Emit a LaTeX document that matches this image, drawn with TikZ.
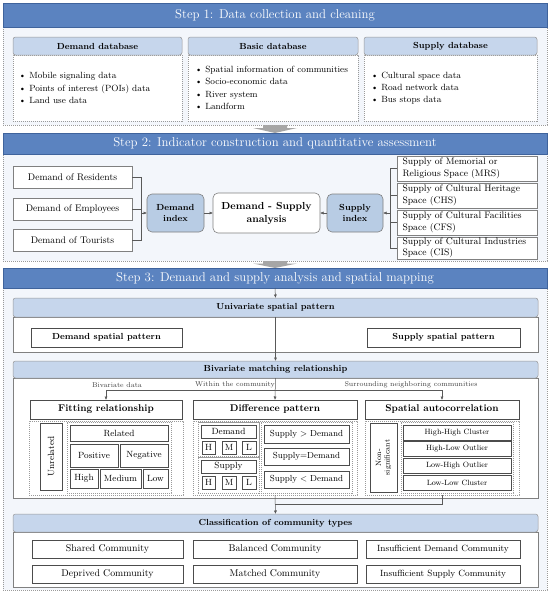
\documentclass[tikz,border=0pt]{standalone}
\usepackage{fontspec}
\usetikzlibrary{arrows.meta}
\definecolor{stepblue}{HTML}{5B83C0}
\definecolor{stepborder}{HTML}{3F639C}
\definecolor{lightbg}{HTML}{F3F6FB}
\definecolor{hdrblue}{HTML}{C6D6EC}
\definecolor{idxblue}{HTML}{B8CCE4}
\definecolor{dashgray}{HTML}{9A9A9A}
\definecolor{boxgray}{HTML}{808080}
\definecolor{arrowgray}{HTML}{A6A6A6}
\newcommand\mybox[7]{%
  \pgfmathsetmacro\bxw{#5-#3}\pgfmathsetmacro\bxh{#6-#4}%
  \pgfmathsetmacro\bxcx{(#3+#5)/2}\pgfmathsetmacro\bxcy{(#4+#6)/2}%
  \node[#2, minimum width=\bxw pt, minimum height=\bxh pt, anchor=center] (#1) at (\bxcx,\bxcy) {#7};}
\begin{document}
\begin{tikzpicture}[x=1pt,y=-1pt,
  every node/.style={inner sep=0pt, outer sep=0pt},
  stephead/.style={fill=stepblue, draw=stepborder, line width=0.8pt, text=white, font=\fontsize{12.8}{15}\selectfont},
  stepbody/.style={fill=lightbg, draw=dashgray, line width=0.5pt, dash pattern=on 1.2pt off 0.8pt},
  subhead/.style={fill=hdrblue, draw=boxgray!80, line width=0.5pt, rounded corners=2.5pt, font=\bfseries\fontsize{8.8}{10}\selectfont},
  dbody/.style={fill=white, draw=dashgray, line width=0.5pt, dash pattern=on 1.2pt off 0.8pt},
  dreg/.style={draw=dashgray, line width=0.5pt, dash pattern=on 1.2pt off 0.8pt},
  sbody/.style={fill=white, draw=boxgray, line width=0.5pt},
  wbox/.style={fill=white, draw=boxgray, line width=0.6pt, font=\fontsize{9.6}{11.5}\selectfont},
  rbox/.style={wbox, align=left, text width=129pt, font=\fontsize{9.4}{11.3}\selectfont},
  ibox/.style={fill=white, draw=black!70, line width=0.8pt, font=\fontsize{9}{10.5}\selectfont},
  thead/.style={fill=white, draw=black!70, line width=0.8pt, font=\bfseries\fontsize{9.8}{11}\selectfont},
  idxbox/.style={fill=idxblue, draw=boxgray, line width=0.6pt, rounded corners=5pt, align=center, font=\bfseries\fontsize{8.8}{11}\selectfont},
  btext/.style={align=left, font=\fontsize{9}{12.3}\selectfont},
  lbl/.style={font=\fontsize{7}{8}\selectfont, text=black!75},
  conn/.style={draw=black!65, line width=0.5pt},
  arr/.style={conn, -{Latex[length=3.5pt,width=3pt]}}
]
\useasboundingbox (0,0) rectangle (550,592);
\fill[white] (0,0) rectangle (550,592);

% ---------------- Step 1 ----------------
\mybox{s1b}{stepbody}{3}{27}{547}{125}{}
\mybox{s1h}{stephead}{3}{3}{547}{27}{Step 1: Data collection and cleaning}

\mybox{c1b}{dbody}{13}{55}{182}{121}{}
\mybox{c1h}{subhead}{13}{37}{182}{55}{Demand database}
\node[btext, anchor=west] (c1t) at (19,88) {\textbullet\ Mobile signaling data\\ \textbullet\ Points of interest (POIs) data\\ \textbullet\ Land use data};

\mybox{c2b}{dbody}{188}{55}{358}{121}{}
\mybox{c2h}{subhead}{188}{37}{358}{55}{Basic database}
\node[btext, anchor=west] (c2t) at (195,88) {\textbullet\ Spatial information of communities\\ \textbullet\ Socio-economic data\\ \textbullet\ River system\\ \textbullet\ Landform};

\mybox{c3b}{dbody}{364}{55}{537}{121}{}
\mybox{c3h}{subhead}{364}{37}{537}{55}{Supply database}
\node[btext, anchor=west] (c3t) at (371,88) {\textbullet\ Cultural space data\\ \textbullet\ Road network data\\ \textbullet\ Bus stops data};

% gray arrow 1
\fill[arrowgray] (263,125) -- (287,125) -- (287,128) -- (297,128) -- (275,133) -- (253,128) -- (263,128) -- cycle;

% ---------------- Step 2 ----------------
\mybox{s2b}{stepbody}{3}{154}{547}{261}{}
\mybox{s2h}{stephead}{3}{133}{547}{154}{Step 2: Indicator construction and quantitative assessment}

\mybox{res}{wbox}{13}{166}{132}{188}{Demand of Residents}
\mybox{emp}{wbox}{13}{198}{132}{220}{Demand of Employees}
\mybox{tou}{wbox}{13}{229}{132}{251}{Demand of Tourists}

\mybox{dix}{idxbox}{147}{194}{204}{232}{Demand\\index}
\mybox{ds}{fill=white, draw=boxgray, line width=0.6pt, rounded corners=5pt, align=center, font=\bfseries\fontsize{10.2}{13}\selectfont}{213}{193}{320}{233}{Demand - Supply\\analysis}
\mybox{six}{idxbox}{327}{194}{383}{232}{Supply\\index}

\mybox{mrs}{rbox}{397}{156}{537}{181}{Supply of Memorial or\\Religious Space (MRS)}
\mybox{chs}{rbox}{397}{183}{537}{208}{Supply of Cultural Heritage\\Space (CHS)}
\mybox{cfs}{rbox}{397}{210}{537}{235}{Supply of Cultural Facilities\\Space (CFS)}
\mybox{cis}{rbox}{397}{237}{537}{259}{Supply of Cultural Industries\\Space (CIS)}

\coordinate (lb) at (141,213);
\coordinate (rb) at (390,213);
\draw[conn] (res.east) -- (res.east -| lb) -- (tou.east -| lb) -- (tou.east);
\draw[conn] (emp.east) -- (emp.east -| lb);
\draw[arr] (lb) -- (dix.west);
\draw[conn] (mrs.west) -- (mrs.west -| rb) -- (cis.west -| rb) -- (cis.west);
\draw[conn] (chs.west) -- (chs.west -| rb);
\draw[conn] (cfs.west) -- (cfs.west -| rb);
\draw[arr] (rb) -- (six.east);
\draw[arr] (dix.east) -- (ds.west);
\draw[arr] (six.west) -- (ds.east);

% gray arrow 2
\fill[arrowgray] (263,261) -- (287,261) -- (287,263.5) -- (297,263.5) -- (275,268) -- (253,263.5) -- (263,263.5) -- cycle;

% ---------------- Step 3 ----------------
\mybox{s3b}{stepbody}{3}{288}{547}{590}{}
\mybox{s3h}{stephead}{3}{268}{547}{288}{Step 3: Demand and supply analysis and spatial mapping}

% univariate
\mybox{unib}{sbody}{13}{317}{538}{352}{}
\mybox{unih}{subhead}{13}{298}{538}{317}{Univariate spatial pattern}
\mybox{dsp}{ibox, font=\bfseries\fontsize{8.8}{10}\selectfont}{31}{328}{182}{347}{Demand spatial pattern}
\mybox{ssp}{ibox, font=\bfseries\fontsize{8.8}{10}\selectfont}{367}{328}{520}{347}{Supply spatial pattern}
\draw[arr] (s3h.south) -- (unih.north);

% bivariate
\mybox{bivb}{sbody}{13}{378}{538}{498}{}
\mybox{bivh}{subhead}{13}{361}{538}{378}{Bivariate matching relationship}
\draw[arr] (unih.south) -- (bivh.north);

\mybox{fith}{thead}{30}{400}{182}{419}{Fitting relationship}
\mybox{difh}{thead}{193}{400}{357}{419}{Difference pattern}
\mybox{spah}{thead}{365}{400}{519}{419}{Spatial autocorrelation}

\coordinate (hl) at (106,390);
\coordinate (hr) at (442,390);
\draw[conn] (hl) -- (hr);
\draw[arr] (hl) -- (fith.north);
\draw[arr] (hr) -- (spah.north);
\draw[arr] (bivh.south) -- (difh.north);
\node[lbl, anchor=south] at (117,388) {Bivariate data};
\node[lbl, anchor=south] at (235,388) {Within the community};
\node[lbl, anchor=south] at (411,388) {Surrounding neighboring communities};

% fitting region
\mybox{fitr}{dreg}{29}{421}{183}{495}{}
\mybox{unr}{ibox}{40}{423}{62}{490}{}
\node[rotate=90, font=\fontsize{9}{10}\selectfont] at (unr.center) {Unrelated};
\mybox{fiti}{dreg}{67}{422}{171}{493}{}
\mybox{rel}{ibox}{70}{425}{168}{441}{Related}
\mybox{pos}{ibox}{70}{444}{118}{467}{Positive}
\mybox{neg}{ibox}{120}{444}{168}{467}{Negative}
\mybox{fhi}{ibox}{70}{469}{98}{488}{High}
\mybox{fme}{ibox}{100}{469}{141}{488}{Medium}
\mybox{flo}{ibox}{143}{469}{168}{488}{Low}

% difference region
\mybox{difr}{dreg}{193}{421}{357}{495}{}
\mybox{dg1}{dreg}{198}{422}{259}{456.5}{}
\mybox{dg2}{dreg}{198}{457.5}{259}{493}{}
\mybox{dde}{ibox}{201}{425}{256}{438}{Demand}
\mybox{dh}{ibox}{202}{441}{215}{454}{H}
\mybox{dm}{ibox}{222}{441}{236}{454}{M}
\mybox{dl}{ibox}{242}{441}{256}{454}{L}
\mybox{dsu}{ibox}{201}{460}{256}{473}{Supply}
\mybox{sh}{ibox}{202}{476}{215}{489}{H}
\mybox{sm}{ibox}{222}{476}{236}{489}{M}
\mybox{sl}{ibox}{242}{476}{256}{489}{L}
\mybox{dg3}{dreg}{261}{422}{352}{493}{}
\mybox{sgd}{ibox, font=\fontsize{8.8}{10}\selectfont}{264}{425}{349}{443}{Supply > Demand}
\mybox{sed}{ibox, font=\fontsize{8.8}{10}\selectfont}{264}{448}{349}{465}{Supply=Demand}
\mybox{sld}{ibox, font=\fontsize{8.8}{10}\selectfont}{264}{471}{349}{488}{Supply < Demand}

% spatial region
\mybox{spar}{dreg}{365}{421}{519}{495}{}
\mybox{nsg}{ibox}{370}{423}{397}{492}{}
\node[rotate=90, align=center, font=\fontsize{7.6}{8.6}\selectfont] at (nsg.center) {Non-\\significant};
\mybox{spi}{dreg}{401}{422}{513}{493}{}
\mybox{hh}{ibox, font=\fontsize{7.6}{9}\selectfont}{403}{425}{511}{440}{High-High Cluster}
\mybox{hlo}{ibox, font=\fontsize{7.6}{9}\selectfont}{403}{441.5}{511}{456.5}{High-Low Outlier}
\mybox{lho}{ibox, font=\fontsize{7.6}{9}\selectfont}{403}{458}{511}{473}{Low-High Outlier}
\mybox{llc}{ibox, font=\fontsize{7.6}{9}\selectfont}{403}{475}{511}{490}{Low-Low Cluster}

% classification
\mybox{clb}{sbody}{13}{532}{538}{587}{}
\mybox{clh}{subhead}{13}{514}{538}{532}{Classification of community types}
\coordinate (bj) at (442,504);
\draw[conn] (spar.south) -- (bj) -- (bj -| difr.south);
\draw[arr] (difr.south) -- (clh.north);

\mybox{shc}{ibox, font=\fontsize{9.8}{11}\selectfont}{32}{540}{183}{558}{Shared Community}
\mybox{bac}{ibox, font=\fontsize{9.8}{11}\selectfont}{193}{540}{357}{558}{Balanced Community}
\mybox{idc}{ibox, font=\fontsize{9}{11}\selectfont}{366}{540}{520}{558}{Insufficient Demand Community}
\mybox{dpc}{ibox, font=\fontsize{9.8}{11}\selectfont}{32}{565}{183}{583}{Deprived Community}
\mybox{mac}{ibox, font=\fontsize{9.8}{11}\selectfont}{193}{565}{357}{583}{Matched Community}
\mybox{isc}{ibox, font=\fontsize{9}{11}\selectfont}{366}{565}{520}{583}{Insufficient Supply Community}
\end{tikzpicture}
\end{document}
